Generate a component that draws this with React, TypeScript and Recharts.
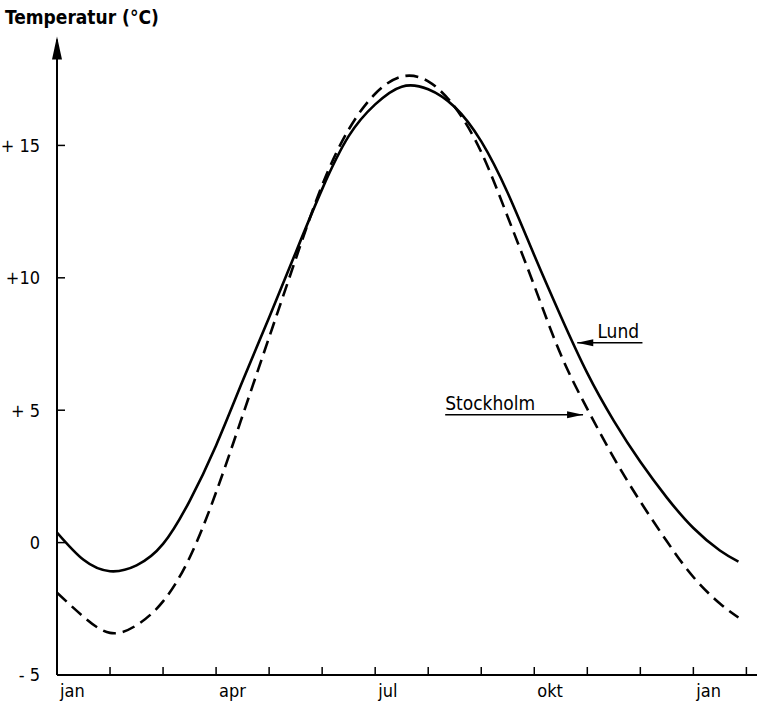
import React from "react";
import { LineChart, Line, XAxis, YAxis, ReferenceLine, ReferenceDot } from "recharts";

// months since 1 Jan (0 = start of January)
const months = [0, 0.5, 1, 1.5, 2, 2.5, 3, 3.5, 4, 4.5, 5, 5.5, 6, 6.5, 7, 7.5, 8, 8.5, 9, 9.5, 10, 10.5, 11, 11.5, 12, 12.5, 12.85];
const lundTemps = [0.38, -0.65, -1.08, -0.86, -0.05, 1.57, 3.67, 6.1, 8.5, 10.95, 13.35, 15.35, 16.55, 17.22, 17.12, 16.45, 15.15, 13.2, 10.85, 8.55, 6.4, 4.6, 3.05, 1.7, 0.55, -0.3, -0.72];
const stockholmTemps = [-1.89, -2.8, -3.41, -3.12, -2.22, -0.57, 1.9, 4.8, 7.75, 10.7, 13.5, 15.6, 16.95, 17.6, 17.42, 16.45, 14.75, 12.3, 9.7, 7.1, 5.05, 3.2, 1.55, 0.05, -1.3, -2.3, -2.83];

const xTicks = [0, 1, 2, 3, 4, 5, 6, 7, 8, 9, 10, 11, 12, 13];
const monthLabels: Record<number, string> = { 0: "jan", 3: "apr", 6: "jul", 9: "okt", 12: "jan" };

const yTicks = [-5, 0, 5, 10, 15];
const yTickLabels: Record<string, string> = { "-5": "- 5", "0": "0", "5": "+ 5", "10": "+10", "15": "+ 15" };

const title = "Temperatur (°C)";
const lundLabel = "Lund";
const stockholmLabel = "Stockholm";

const data = months.map((m, i) => ({ m, lund: lundTemps[i], stockholm: stockholmTemps[i] }));

const FONT = "'DejaVu Sans Condensed', 'DejaVu Sans', sans-serif";

const XTick = (props: any) => {
  const { x, y, payload } = props;
  const v = payload.value;
  const lab = monthLabels[v];
  return (
    <g>
      {v > 0 && <line x1={x} x2={x} y1={y - 8} y2={y} stroke="#000" strokeWidth={1.5} />}
      {lab && (
        <text x={x + 3} y={y + 22} fontFamily={FONT} fontSize={18} fill="#000" textAnchor="start">
          {lab}
        </text>
      )}
    </g>
  );
};

const YTick = (props: any) => {
  const { x, y, payload } = props;
  const v = payload.value;
  return (
    <g>
      {v > -5 && <line x1={x} x2={x + 8} y1={y} y2={y} stroke="#000" strokeWidth={1.5} />}
      <text x={x - 17} y={y} dy="0.35em" fontFamily={FONT} fontSize={18} fill="#000" textAnchor="end">
        {yTickLabels[String(v)]}
      </text>
    </g>
  );
};

const AxisArrow = (p: any) => (
  <polygon points={`${p.cx},${p.cy - 3} ${p.cx - 5},${p.cy + 20} ${p.cx + 5},${p.cy + 20}`} fill="#000" />
);
const LeftHead = (p: any) => (
  <polygon points={`${p.cx},${p.cy} ${p.cx + 16},${p.cy - 3.5} ${p.cx + 16},${p.cy + 3.5}`} fill="#000" />
);
const RightHead = (p: any) => (
  <polygon points={`${p.cx},${p.cy} ${p.cx - 16},${p.cy - 3.5} ${p.cx - 16},${p.cy + 3.5}`} fill="#000" />
);
const makeText = (s: string) => (p: any) => (
  <text x={p.cx} y={p.cy - 5} fontFamily={FONT} fontSize={19} fill="#000" textAnchor="start">
    {s}
  </text>
);

export default function App() {
  return (
    <div style={{ position: "absolute", left: 0, top: 0, background: "#fff" }}>
      <LineChart width={763} height={704} data={data} margin={{ top: 39.5, right: 6, bottom: 0, left: 0 }}>
        <XAxis
          type="number"
          dataKey="m"
          domain={[0, 13.2]}
          ticks={xTicks}
          allowDataOverflow
          height={29}
          tickSize={0}
          tickMargin={0}
          tickLine={false}
          tick={<XTick />}
          axisLine={{ stroke: "#000", strokeWidth: 2 }}
          interval={0}
        />
        <YAxis
          type="number"
          domain={[-5, 19]}
          ticks={yTicks}
          allowDataOverflow
          width={57}
          tickSize={0}
          tickMargin={0}
          tickLine={false}
          tick={<YTick />}
          axisLine={{ stroke: "#000", strokeWidth: 2 }}
          interval={0}
          label={() => (
            <text x={5} y={24} fontFamily={FONT} fontSize={19} fontWeight={600} fill="#000">
              {title}
            </text>
          )}
        />
        <Line
          dataKey="lund"
          type="natural"
          stroke="#000"
          strokeWidth={2.6}
          dot={false}
          isAnimationActive={false}
        />
        <Line
          dataKey="stockholm"
          type="natural"
          stroke="#000"
          strokeWidth={2.6}
          strokeDasharray="13 7"
          dot={false}
          isAnimationActive={false}
        />
        <ReferenceDot x={0} y={19} r={0} ifOverflow="visible" shape={AxisArrow} />
        <ReferenceLine segment={[{ x: 9.81, y: 7.55 }, { x: 11.04, y: 7.55 }]} stroke="#000" strokeWidth={1.5} ifOverflow="visible" />
        <ReferenceDot x={9.81} y={7.55} r={0} ifOverflow="visible" shape={LeftHead} />
        <ReferenceDot x={10.19} y={7.55} r={0} ifOverflow="visible" shape={makeText(lundLabel)} />
        <ReferenceLine segment={[{ x: 7.32, y: 4.83 }, { x: 9.92, y: 4.83 }]} stroke="#000" strokeWidth={1.5} ifOverflow="visible" />
        <ReferenceDot x={9.92} y={4.83} r={0} ifOverflow="visible" shape={RightHead} />
        <ReferenceDot x={7.32} y={4.83} r={0} ifOverflow="visible" shape={makeText(stockholmLabel)} />
      </LineChart>
    </div>
  );
}
